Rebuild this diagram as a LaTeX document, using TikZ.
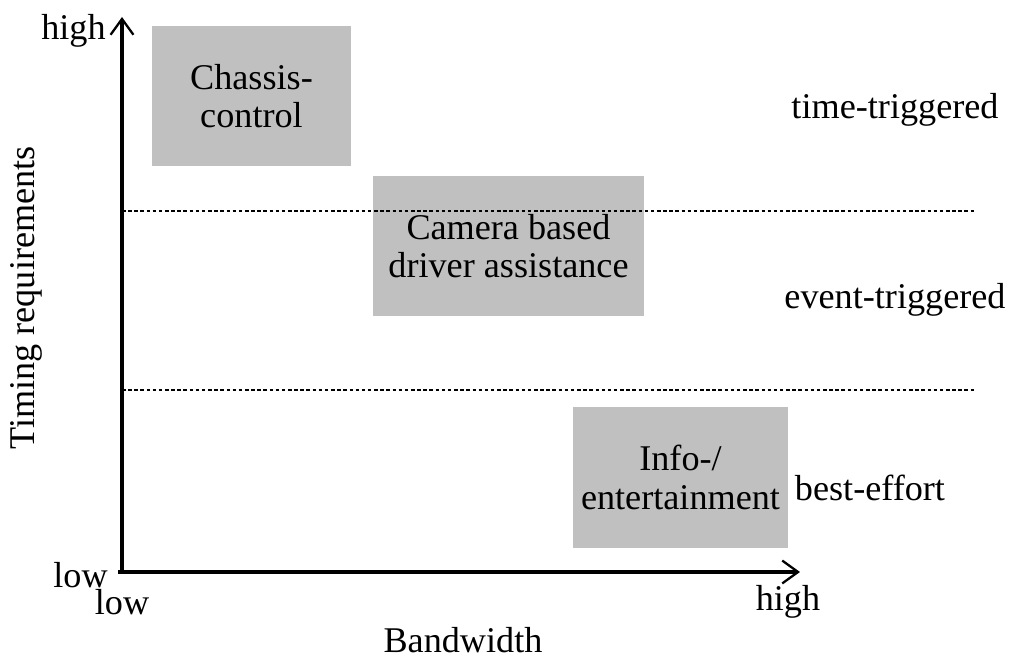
\documentclass[tikz,border=0pt]{standalone}
\usepackage{fontspec}
\setmainfont{Liberation Serif}
\usetikzlibrary{arrows.meta}
\tikzset{
  area/.style={fill=boxgray, draw=none, inner sep=0pt, align=center},
  axis/.style={line width=2.3pt, -{Straight Barb[length=9pt,width=13pt,line width=1.3pt]}},
  level/.style={dashed, line width=0.6pt, dash pattern=on 2pt off 1.5pt},
}
\definecolor{boxgray}{RGB}{192,192,192}
\begin{document}
\begin{tikzpicture}[x=0.02cm, y=-0.02cm, font=\fontsize{20.6}{22}\selectfont]
        \useasboundingbox (0,0) rectangle (1022,661);
        % regions
        \node[area, minimum width=3.98cm, minimum height=2.8cm] (chassis) at (251.5,96) {Chassis-\\control};
        \node[area, minimum width=5.42cm, minimum height=2.8cm] (camera) at (508.5,246) {Camera based\\driver assistance};
        \node[area, minimum width=4.3cm, minimum height=2.82cm] (info) at (680.5,477.5) {Info-/\\entertainment};
        % levels
        \coordinate (l1a) at (122,211); \coordinate (l1b) at (975,211);
        \coordinate (l2a) at (122,390); \coordinate (l2b) at (975,390);
        \draw[level] (l1a) -- (l1b);
        \draw[level] (l2a) -- (l2b);
        % axes
        \coordinate (o) at (122,572);
        \coordinate (ytop) at (122,17);
        \coordinate (xend) at (800,572);
        \draw[axis] ([yshift=-0.04cm]o) -- (ytop);
        \draw[axis] ([xshift=-0.08cm]o) -- (xend);
        \node[anchor=east, inner sep=0pt] (yhigh) at (106,31) {high};
        \node[anchor=east, inner sep=0pt] (ylow) at (108,575) {low};
        \node[inner sep=0pt] (xlow) at (122,602) {low};
        \node[inner sep=0pt] (xhigh) at (788,602) {high};
        \node[inner sep=0pt] (xlabel) at (463,640) {Bandwidth};
        \node[inner sep=0pt, rotate=90] (ylabel) at (26,298) {Timing requirements};
        % traffic classes
        \node[inner sep=0pt] (tt) at (895,110) {time-triggered};
        \node[inner sep=0pt] (et) at (895,300) {event-triggered};
        \node[inner sep=0pt] (be) at (870,488) {best-effort};
    \end{tikzpicture}
\end{document}
